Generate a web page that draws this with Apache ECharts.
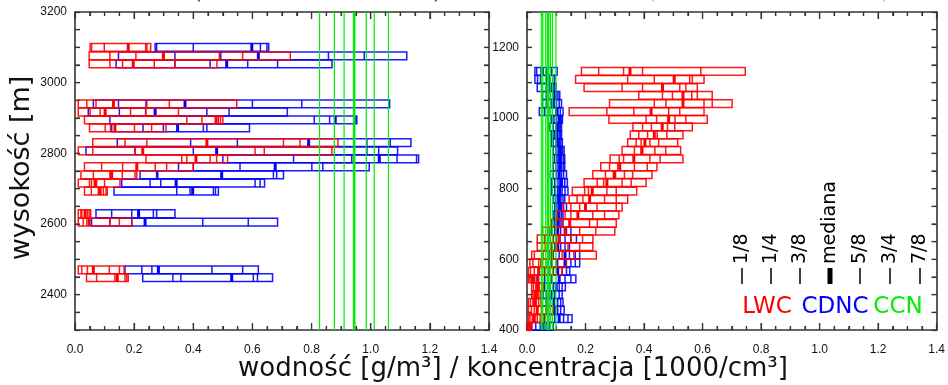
<!DOCTYPE html>
<html><head><meta charset="utf-8">
<script src="https://cdn.jsdelivr.net/npm/echarts@6/dist/echarts.min.js"></script>
<style>html,body{margin:0;padding:0;background:#fff}#c{width:948px;height:385px}</style>
</head><body><div id="c"></div>
<script>
// quantiles per level: 1/8, 1/4, 3/8, median, 5/8, 3/4, 7/8
const quantileNames = ['1/8', '1/4', '3/8', 'mediana', '5/8', '3/4', '7/8'];
const xTickLabels = ['0.0', '0.2', '0.4', '0.6', '0.8', '1.0', '1.2', '1.4'];

// ---- left panel (upper altitudes) ----
const altLeft = [3100, 3076, 3053, 2940, 2917, 2895, 2872, 2830, 2807, 2784, 2762, 2739, 2716, 2693, 2629, 2605, 2470, 2448];
const lwcLeft = [
  [0.051, 0.056, 0.099, 0.180, 0.239, 0.243, 0.256],
  [0.048, 0.118, 0.206, 0.299, 0.488, 0.567, 0.728],
  [0.048, 0.118, 0.161, 0.197, 0.268, 0.338, 0.480],
  [0.011, 0.040, 0.071, 0.130, 0.243, 0.319, 0.547],
  [0.011, 0.051, 0.085, 0.102, 0.188, 0.239, 0.350],
  [0.032, 0.378, 0.429, 0.477, 0.485, 0.492, 0.500],
  [0.049, 0.102, 0.120, 0.135, 0.201, 0.259, 0.308],
  [0.060, 0.169, 0.243, 0.446, 0.705, 0.761, 0.889],
  [0.011, 0.060, 0.203, 0.229, 0.609, 0.640, 0.869],
  [0.240, 0.361, 0.378, 0.409, 0.457, 0.479, 0.516],
  [0.032, 0.090, 0.161, 0.209, 0.271, 0.310, 0.400],
  [0.020, 0.062, 0.118, 0.124, 0.160, 0.203, 0.209],
  [0.011, 0.049, 0.056, 0.068, 0.073, 0.100, 0.152],
  [0.032, 0.055, 0.079, 0.085, 0.096, 0.105, 0.109],
  [0.011, 0.020, 0.023, 0.034, 0.042, 0.048, 0.053],
  [0.011, 0.028, 0.040, 0.048, 0.118, 0.150, 0.192],
  [0.011, 0.023, 0.042, 0.062, 0.116, 0.150, 0.166],
  [0.039, 0.073, 0.135, 0.143, 0.169, 0.175, 0.180]
];
const cdncLeft = [
  [0.271, 0.276, 0.400, 0.598, 0.627, 0.649, 0.655],
  [0.147, 0.338, 0.493, 0.620, 0.857, 0.978, 1.122],
  [0.139, 0.338, 0.457, 0.513, 0.584, 0.685, 0.869],
  [0.062, 0.147, 0.240, 0.372, 0.600, 0.767, 1.064],
  [0.045, 0.150, 0.239, 0.271, 0.446, 0.521, 0.718],
  [0.118, 0.809, 0.861, 0.880, 0.945, 0.950, 0.953],
  [0.124, 0.230, 0.299, 0.347, 0.434, 0.446, 0.590],
  [0.143, 0.391, 0.549, 0.790, 0.987, 1.066, 1.136],
  [0.037, 0.203, 0.400, 0.479, 0.987, 1.027, 1.091],
  [0.500, 0.739, 0.936, 1.029, 1.089, 1.155, 1.162],
  [0.350, 0.400, 0.558, 0.677, 0.801, 0.838, 0.995],
  [0.220, 0.276, 0.280, 0.496, 0.671, 0.682, 0.705],
  [0.158, 0.254, 0.290, 0.342, 0.609, 0.626, 0.641],
  [0.132, 0.344, 0.389, 0.398, 0.468, 0.475, 0.485],
  [0.071, 0.124, 0.192, 0.215, 0.265, 0.276, 0.338],
  [0.056, 0.118, 0.192, 0.237, 0.432, 0.586, 0.685],
  [0.169, 0.226, 0.260, 0.282, 0.463, 0.567, 0.620],
  [0.229, 0.331, 0.358, 0.530, 0.603, 0.617, 0.668]
];
const ccnLeft = [0.827, 0.877, 0.910, 0.944, 0.985, 1.012, 1.060];

// ---- right panel (lower altitudes) ----
const altRight = [1132, 1109, 1086, 1064, 1041, 1018, 996, 975, 952, 930, 908, 884, 862, 840, 817, 793, 770, 748, 726, 702, 680, 658, 636, 612, 590, 566, 545, 522, 500, 478, 456, 432, 410];
const lwcRight = [
  [0.186, 0.245, 0.330, 0.352, 0.395, 0.594, 0.746],
  [0.166, 0.344, 0.435, 0.503, 0.556, 0.565, 0.605],
  [0.195, 0.325, 0.395, 0.463, 0.522, 0.543, 0.582],
  [0.382, 0.463, 0.497, 0.533, 0.563, 0.582, 0.633],
  [0.282, 0.435, 0.475, 0.533, 0.605, 0.633, 0.701],
  [0.144, 0.273, 0.365, 0.424, 0.484, 0.522, 0.605],
  [0.280, 0.407, 0.443, 0.484, 0.506, 0.543, 0.616],
  [0.362, 0.395, 0.425, 0.462, 0.480, 0.505, 0.565],
  [0.353, 0.382, 0.412, 0.435, 0.445, 0.478, 0.533],
  [0.344, 0.373, 0.390, 0.403, 0.420, 0.450, 0.515],
  [0.325, 0.367, 0.390, 0.393, 0.437, 0.474, 0.525],
  [0.284, 0.315, 0.330, 0.365, 0.420, 0.455, 0.533],
  [0.252, 0.282, 0.310, 0.317, 0.367, 0.411, 0.444],
  [0.225, 0.268, 0.295, 0.300, 0.333, 0.361, 0.427],
  [0.195, 0.240, 0.262, 0.273, 0.325, 0.356, 0.407],
  [0.155, 0.197, 0.210, 0.223, 0.273, 0.305, 0.375],
  [0.144, 0.171, 0.191, 0.214, 0.265, 0.305, 0.344],
  [0.123, 0.150, 0.180, 0.200, 0.239, 0.305, 0.325],
  [0.103, 0.130, 0.150, 0.174, 0.225, 0.265, 0.314],
  [0.084, 0.099, 0.120, 0.146, 0.214, 0.240, 0.305],
  [0.053, 0.075, 0.100, 0.130, 0.180, 0.235, 0.300],
  [0.035, 0.060, 0.090, 0.110, 0.150, 0.190, 0.225],
  [0.035, 0.062, 0.085, 0.100, 0.140, 0.180, 0.225],
  [0.016, 0.025, 0.055, 0.085, 0.120, 0.160, 0.237],
  [0.010, 0.020, 0.040, 0.050, 0.070, 0.100, 0.135],
  [0.005, 0.012, 0.025, 0.040, 0.060, 0.090, 0.120],
  [0.005, 0.010, 0.015, 0.020, 0.026, 0.032, 0.040],
  [0.016, 0.022, 0.030, 0.036, 0.042, 0.050, 0.056],
  [0.016, 0.020, 0.025, 0.030, 0.035, 0.040, 0.046],
  [0.005, 0.012, 0.020, 0.026, 0.032, 0.040, 0.048],
  [0.005, 0.015, 0.025, 0.035, 0.050, 0.070, 0.090],
  [0.005, 0.010, 0.018, 0.025, 0.035, 0.045, 0.058],
  [0.001, 0.003, 0.005, 0.008, 0.010, 0.013, 0.016]
];
const cdncRight = [
  [0.027, 0.033, 0.048, 0.053, 0.067, 0.084, 0.103],
  [0.027, 0.036, 0.046, 0.070, 0.078, 0.088, 0.095],
  [0.035, 0.050, 0.065, 0.080, 0.088, 0.093, 0.099],
  [0.053, 0.065, 0.080, 0.095, 0.101, 0.106, 0.112],
  [0.053, 0.068, 0.085, 0.090, 0.101, 0.110, 0.118],
  [0.042, 0.060, 0.080, 0.101, 0.106, 0.114, 0.123],
  [0.084, 0.092, 0.101, 0.110, 0.114, 0.118, 0.121],
  [0.078, 0.089, 0.099, 0.104, 0.110, 0.114, 0.118],
  [0.084, 0.089, 0.095, 0.102, 0.110, 0.114, 0.118],
  [0.084, 0.089, 0.099, 0.106, 0.112, 0.116, 0.121],
  [0.089, 0.099, 0.106, 0.112, 0.118, 0.122, 0.127],
  [0.093, 0.101, 0.106, 0.112, 0.118, 0.124, 0.129],
  [0.089, 0.099, 0.106, 0.112, 0.118, 0.124, 0.129],
  [0.080, 0.089, 0.101, 0.110, 0.118, 0.125, 0.135],
  [0.084, 0.095, 0.106, 0.115, 0.121, 0.129, 0.138],
  [0.084, 0.095, 0.105, 0.112, 0.120, 0.130, 0.140],
  [0.089, 0.097, 0.104, 0.110, 0.116, 0.123, 0.129],
  [0.095, 0.100, 0.106, 0.112, 0.118, 0.125, 0.135],
  [0.089, 0.095, 0.101, 0.106, 0.112, 0.118, 0.123],
  [0.085, 0.093, 0.099, 0.104, 0.110, 0.116, 0.123],
  [0.075, 0.085, 0.095, 0.105, 0.115, 0.135, 0.150],
  [0.080, 0.090, 0.100, 0.110, 0.130, 0.150, 0.169],
  [0.070, 0.085, 0.095, 0.105, 0.115, 0.130, 0.145],
  [0.075, 0.090, 0.110, 0.130, 0.145, 0.165, 0.180],
  [0.070, 0.085, 0.105, 0.130, 0.150, 0.165, 0.180],
  [0.060, 0.075, 0.090, 0.105, 0.120, 0.135, 0.146],
  [0.037, 0.060, 0.085, 0.110, 0.130, 0.150, 0.167],
  [0.060, 0.075, 0.090, 0.100, 0.110, 0.120, 0.131],
  [0.055, 0.065, 0.075, 0.085, 0.095, 0.110, 0.120],
  [0.050, 0.065, 0.080, 0.090, 0.105, 0.115, 0.123],
  [0.050, 0.065, 0.080, 0.095, 0.105, 0.115, 0.127],
  [0.060, 0.080, 0.095, 0.110, 0.125, 0.140, 0.154],
  [0.016, 0.030, 0.045, 0.055, 0.065, 0.078, 0.089]
];
const ccnRight = [0.049, 0.054, 0.064, 0.072, 0.080, 0.087, 0.099];

// axis tick positions (value units)
const xMajorTicks = [0, 0.2, 0.4, 0.6, 0.8, 1.0, 1.2, 1.4];
const xMinorTicks = [0.05, 0.1, 0.15, 0.25, 0.3, 0.35, 0.45, 0.5, 0.55, 0.65, 0.7, 0.75, 0.85, 0.9, 0.95, 1.05, 1.1, 1.15, 1.25, 1.3, 1.35];
const yTicksLeft = [2350, 2400, 2450, 2500, 2550, 2600, 2650, 2700, 2750, 2800, 2850, 2900, 2950, 3000, 3050, 3100, 3150];
const yTicksRight = [450, 500, 550, 600, 650, 700, 750, 800, 850, 900, 950, 1000, 1050, 1100, 1150, 1200, 1250];

const RED = '#ff0000', BLUE = '#0000ff', GREEN = '#00ee00', AXC = '#333';
const FONT = 'DejaVu Sans';
const BOX_H = 22; // metres

function boxData(alts, qs) { return alts.map((a, i) => qs[i].concat([a])); }
function ccnData(qs, ymid) { return qs.map((v, i) => [v, ymid, i === 3 ? 1 : 0]); }
function tickData(yTicks, xmid, ymid) {
  return xMajorTicks.map(v => [v, ymid, 0])
    .concat(xMinorTicks.map(v => [v, ymid, 1]))
    .concat(yTicks.map(v => [xmid, v, 2]));
}

function boxRender(color) {
  return function (params, api) {
    const alt = api.value(7);
    const h = Math.abs(api.size([0, BOX_H])[1]);
    const yc = api.coord([0, alt])[1];
    const y0 = yc - h / 2;
    const xs = [];
    for (let k = 0; k < 7; k++) xs.push(api.coord([api.value(k), alt])[0]);
    const ch = [];
    ch.push({ type: 'rect', shape: { x: xs[0], y: y0, width: xs[6] - xs[0], height: h },
      style: { fill: null, stroke: color, lineWidth: 1.5, opacity: 0.9 } });
    [1, 2, 4, 5].forEach(k => ch.push({ type: 'line',
      shape: { x1: xs[k], y1: y0, x2: xs[k], y2: y0 + h },
      style: { stroke: color, lineWidth: 1.5, opacity: 0.9 } }));
    ch.push({ type: 'rect', shape: { x: xs[3] - 1.5, y: y0, width: 3, height: h }, style: { fill: color } });
    return { type: 'group', children: ch };
  };
}
function ccnRender(ymin, ymax) {
  return function (params, api) {
    const v = api.value(0);
    const p1 = api.coord([v, ymax]);
    const p2 = api.coord([v, ymin]);
    return { type: 'line', shape: { x1: p1[0], y1: p1[1], x2: p2[0], y2: p2[1] },
      style: { stroke: GREEN, lineWidth: api.value(2) ? 2.6 : 1.2 } };
  };
}
// inward tick marks on all four sides of a panel, placed through the axis scales
function tickRender(params, api) {
  const cs = params.coordSys;
  const kind = api.value(2);
  const st = { stroke: AXC, lineWidth: 1.2 };
  if (kind === 2) {
    const y = api.coord([api.value(0), api.value(1)])[1];
    return { type: 'group', children: [
      { type: 'line', shape: { x1: cs.x, y1: y, x2: cs.x + 5, y2: y }, style: st },
      { type: 'line', shape: { x1: cs.x + cs.width, y1: y, x2: cs.x + cs.width - 5, y2: y }, style: st }
    ] };
  }
  const x = api.coord([api.value(0), api.value(1)])[0];
  const len = kind === 0 ? 7 : 4;
  return { type: 'group', children: [
    { type: 'line', shape: { x1: x, y1: cs.y + cs.height, x2: x, y2: cs.y + cs.height - len }, style: st },
    { type: 'line', shape: { x1: x, y1: cs.y, x2: x, y2: cs.y + len }, style: st }
  ] };
}

function xAx(grid, pos, labels) {
  return { type: 'value', gridIndex: grid, position: pos, min: 0, max: 1.4, interval: 0.2,
    axisLine: { show: true, onZero: false, lineStyle: { color: AXC, width: 1.6 } },
    axisTick: { show: true, inside: true, length: 7, lineStyle: { color: AXC, width: 1.2 } },
    minorTick: { show: true, splitNumber: 4, length: 4, lineStyle: { color: AXC, width: 1.2 } },
    axisLabel: { show: labels, margin: 14, fontSize: 12, color: '#111',
      formatter: v => xTickLabels[Math.round(v / 0.2)] },
    splitLine: { show: false }, minorSplitLine: { show: false } };
}
function yAx(grid, pos, min, max, labels) {
  return { type: 'value', gridIndex: grid, position: pos, min: min, max: max, interval: 50,
    axisLine: { show: true, onZero: false, lineStyle: { color: AXC, width: 1.6 } },
    axisTick: { show: true, inside: true, length: 5, lineStyle: { color: AXC, width: 1.2 } },
    axisLabel: { show: labels, margin: 8, fontSize: 12, color: '#111',
      formatter: v => (v % 200 === 0 ? String(v) : '') },
    splitLine: { show: false } };
}

const legendX = [742, 771, 800, 830, 860, 890, 920];
const graphics = [];
quantileNames.forEach((t, i) => {
  graphics.push({ type: 'text', x: legendX[i], y: 264, rotation: Math.PI / 2,
    style: { text: t, fontSize: 19, fontFamily: FONT, fill: '#000', align: 'left', verticalAlign: 'middle' } });
  if (i === 3) graphics.push({ type: 'rect', shape: { x: legendX[i] - 2.5, y: 268, width: 5, height: 16 }, style: { fill: '#000' } });
  else graphics.push({ type: 'line', shape: { x1: legendX[i], y1: 268, x2: legendX[i], y2: 284 }, style: { stroke: '#000', lineWidth: 1.5 } });
});
[['LWC', 767, RED], ['CDNC', 835, BLUE], ['CCN', 898, GREEN]].forEach(([t, x, c]) => {
  graphics.push({ type: 'text', x: x, y: 307, style: { text: t, fontSize: 23, fontFamily: FONT, fill: c,
    align: 'center', verticalAlign: 'middle' } });
});
graphics.push({ type: 'text', x: 22, y: 168, rotation: Math.PI / 2,
  style: { text: 'wysokość [m]', fontSize: 27, fontFamily: FONT, fill: '#111', align: 'center', verticalAlign: 'middle' } });
graphics.push({ type: 'text', x: 513, y: 369,
  style: { text: 'wodność [g/m³] / koncentracja [1000/cm³]', fontSize: 26, fontFamily: FONT, fill: '#111',
    align: 'center', verticalAlign: 'middle' } });
[['(', 198, '#333'], [')', 437, '#333'], ['(', 652, '#bbb'], [')', 885, '#bbb']].forEach(([t, x, c]) => {
  graphics.push({ type: 'text', x: x, y: -6, style: { text: t, fontSize: 20, fontFamily: FONT, fill: c,
    align: 'center', verticalAlign: 'middle' } });
});

const chart = echarts.init(document.getElementById('c'));
chart.setOption({
  animation: false,
  grid: [
    { left: 75, right: 459, top: 12, bottom: 55 },
    { left: 527, right: 9, top: 12, bottom: 55 }
  ],
  xAxis: [xAx(0, 'bottom', true), xAx(0, 'top', false), xAx(1, 'bottom', true), xAx(1, 'top', false)],
  yAxis: [yAx(0, 'left', 2300, 3200, true), yAx(0, 'right', 2300, 3200, false),
          yAx(1, 'left', 400, 1300, true), yAx(1, 'right', 400, 1300, false)],
  series: [
    { type: 'custom', name: 'ticks', xAxisIndex: 0, yAxisIndex: 0, data: tickData(yTicksLeft, 0.7, 2750),
      encode: { x: 0, y: 1 }, renderItem: tickRender, silent: true },
    { type: 'custom', name: 'ticks', xAxisIndex: 2, yAxisIndex: 2, data: tickData(yTicksRight, 0.7, 850),
      encode: { x: 0, y: 1 }, renderItem: tickRender, silent: true },
    { type: 'custom', name: 'CDNC', xAxisIndex: 0, yAxisIndex: 0, data: boxData(altLeft, cdncLeft),
      encode: { x: [0, 1, 2, 3, 4, 5, 6], y: 7 }, renderItem: boxRender(BLUE) },
    { type: 'custom', name: 'LWC', xAxisIndex: 0, yAxisIndex: 0, data: boxData(altLeft, lwcLeft),
      encode: { x: [0, 1, 2, 3, 4, 5, 6], y: 7 }, renderItem: boxRender(RED) },
    { type: 'custom', name: 'CCN', xAxisIndex: 0, yAxisIndex: 0, data: ccnData(ccnLeft, 2750),
      encode: { x: 0, y: 1 }, renderItem: ccnRender(2300, 3200) },
    { type: 'custom', name: 'CDNC', xAxisIndex: 2, yAxisIndex: 2, data: boxData(altRight, cdncRight),
      encode: { x: [0, 1, 2, 3, 4, 5, 6], y: 7 }, renderItem: boxRender(BLUE) },
    { type: 'custom', name: 'LWC', xAxisIndex: 2, yAxisIndex: 2, data: boxData(altRight, lwcRight),
      encode: { x: [0, 1, 2, 3, 4, 5, 6], y: 7 }, renderItem: boxRender(RED) },
    { type: 'custom', name: 'CCN', xAxisIndex: 2, yAxisIndex: 2, data: ccnData(ccnRight, 850),
      encode: { x: 0, y: 1 }, renderItem: ccnRender(400, 1300) }
  ],
  graphic: graphics
});
</script></body></html>
